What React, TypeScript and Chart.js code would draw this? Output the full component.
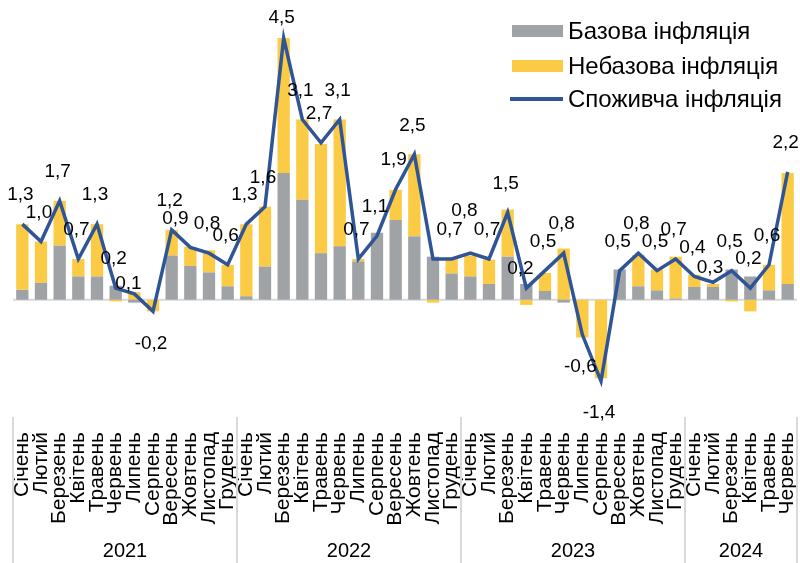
import React, { useEffect, useRef } from 'react';
import { Chart, registerables } from 'chart.js';

Chart.register(...registerables);

const MONTHS = ['Січень', 'Лютий', 'Березень', 'Квітень', 'Травень', 'Червень', 'Липень', 'Серпень', 'Вересень', 'Жовтень', 'Листопад', 'Грудень'];
const YEARS = ['2021', '2022', '2023', '2024'];
const MONTHS_PER_YEAR = [12, 12, 12, 6];

const categories: string[] = YEARS.flatMap((_, i) => MONTHS.slice(0, MONTHS_PER_YEAR[i]));

// Базова інфляція (внесок)
const coreInflation = [
  0.17, 0.29, 0.93, 0.40, 0.40, 0.24, -0.05, 0.00, 0.76, 0.58, 0.47, 0.23,
  0.06, 0.57, 2.18, 1.72, 0.80, 0.92, 0.66, 1.15, 1.37, 1.09, 0.74, 0.45,
  0.40, 0.27, 0.74, 0.27, 0.15, -0.05, 0.00, 0.00, 0.52, 0.23, 0.16, 0.02,
  0.22, 0.22, 0.52, 0.40, 0.16, 0.27,
];

// Небазова інфляція (внесок)
const nonCoreInflation = [
  1.13, 0.71, 0.77, 0.30, 0.90, -0.03, 0.13, -0.20, 0.44, 0.33, 0.38, 0.37,
  1.24, 1.03, 2.32, 1.38, 1.88, 2.18, 0.04, 0.00, 0.52, 1.41, -0.05, 0.28,
  0.36, 0.42, 0.81, -0.09, 0.31, 0.88, -0.65, -1.35, 0.00, 0.54, 0.36, 0.72,
  0.21, 0.05, -0.03, -0.20, 0.44, 1.91,
];

// Споживча інфляція
const consumerInflation = [
  1.3, 1.0, 1.7, 0.7, 1.3, 0.2, 0.1, -0.2, 1.2, 0.9, 0.8, 0.6,
  1.3, 1.6, 4.5, 3.1, 2.7, 3.1, 0.7, 1.1, 1.9, 2.5, 0.7, 0.7,
  0.8, 0.7, 1.5, 0.2, 0.5, 0.8, -0.6, -1.4, 0.5, 0.8, 0.5, 0.7,
  0.4, 0.3, 0.5, 0.2, 0.6, 2.2,
];

const SERIES_NAMES = ['Базова інфляція', 'Небазова інфляція', 'Споживча інфляція'];

const Y_MIN = -2;
const Y_MAX = 5;

const GREY = '#a0a3a6';
const YELLOW = '#fccb45';
const BLUE = '#2f5597';
const RULE = '#d9d9d9';
const FONT = '"Liberation Sans", Arial, sans-serif';

// label placement tweaks (style only): index -> [dx, dy] extra shift
const LABEL_NUDGE: Record<number, [number, number]> = {
  6: [-4, 19],
  9: [-13, 0],
  24: [-4, -13],
  27: [-4, 10],
  37: [-1, 14],
};
const HIDDEN_LABELS = [22];

const zeroLinePlugin = {
  id: 'zeroLine',
  beforeDatasetsDraw(chart: any) {
    const { ctx, chartArea, scales } = chart;
    const y = scales.y.getPixelForValue(0);
    ctx.save();
    ctx.strokeStyle = RULE;
    ctx.lineWidth = 2;
    ctx.beginPath();
    ctx.moveTo(chartArea.left, y);
    ctx.lineTo(chartArea.right, y);
    ctx.stroke();
    ctx.restore();
  },
};

const labelsPlugin = {
  id: 'valueLabels',
  afterDatasetsDraw(chart: any) {
    const { ctx } = chart;
    const meta = chart.getDatasetMeta(2);
    ctx.save();
    ctx.font = `19px ${FONT}`;
    ctx.fillStyle = '#000';
    ctx.textAlign = 'center';
    ctx.textBaseline = 'middle';
    meta.data.forEach((pt: any, i: number) => {
      if (HIDDEN_LABELS.includes(i)) return;
      const v = consumerInflation[i];
      const nudge = LABEL_NUDGE[i] || [0, 0];
      const x = pt.x - 2 + nudge[0];
      let y = v < 0 ? pt.y + 32 : pt.y - 29;
      y += nudge[1];
      if (y < 18) y = 18;
      ctx.fillText(v.toFixed(1).replace('.', ','), x, y);
    });
    ctx.restore();
  },
};

const yearAxisPlugin = {
  id: 'yearAxis',
  afterDraw(chart: any) {
    const { ctx, chartArea, scales, height } = chart;
    const xs = scales.x;
    ctx.save();
    ctx.strokeStyle = RULE;
    ctx.lineWidth = 2;
    ctx.font = `20px ${FONT}`;
    ctx.fillStyle = '#000';
    ctx.textAlign = 'center';
    ctx.textBaseline = 'middle';
    let start = 0;
    const bounds: number[] = [xs.getPixelForValue(-0.5)];
    YEARS.forEach((yr, i) => {
      const end = start + MONTHS_PER_YEAR[i];
      const x0 = xs.getPixelForValue(start - 0.5);
      const x1 = xs.getPixelForValue(end - 0.5);
      bounds.push(x1);
      ctx.fillText(yr, (x0 + x1) / 2, 551);
      start = end;
    });
    bounds.forEach((bx) => {
      ctx.beginPath();
      ctx.moveTo(bx, chartArea.bottom + 1);
      ctx.lineTo(bx, height);
      ctx.stroke();
    });
    ctx.restore();
  },
};

const legendPlugin = {
  id: 'customLegend',
  afterDraw(chart: any) {
    const { ctx } = chart;
    const x0 = 512;
    const rows = [31, 66, 99];
    ctx.save();
    ctx.font = `24px ${FONT}`;
    ctx.textBaseline = 'middle';
    ctx.textAlign = 'left';
    ctx.fillStyle = GREY;
    ctx.fillRect(x0, rows[0] - 6, 51, 12);
    ctx.fillStyle = YELLOW;
    ctx.fillRect(x0, rows[1] - 6, 51, 12);
    ctx.strokeStyle = BLUE;
    ctx.lineWidth = 4;
    ctx.beginPath();
    ctx.moveTo(x0 - 2, rows[2]);
    ctx.lineTo(x0 + 51, rows[2]);
    ctx.stroke();
    ctx.fillStyle = '#000';
    SERIES_NAMES.forEach((name, i) => {
      ctx.fillText(name, x0 + 56, rows[i] + 1);
    });
    ctx.restore();
  },
};

export default function App() {
  const canvasRef = useRef<HTMLCanvasElement | null>(null);

  useEffect(() => {
    document.body.style.margin = '0';
    const canvas = canvasRef.current;
    if (!canvas) return;
    Chart.defaults.font.family = FONT;

    const chart = new Chart(canvas, {
      type: 'bar',
      data: {
        labels: categories,
        datasets: [
          {
            type: 'bar',
            label: SERIES_NAMES[0],
            data: coreInflation,
            backgroundColor: GREY,
            stack: 'bars',
            order: 2,
            categoryPercentage: 1,
            barPercentage: 0.66,
          },
          {
            type: 'bar',
            label: SERIES_NAMES[1],
            data: nonCoreInflation,
            backgroundColor: YELLOW,
            stack: 'bars',
            order: 2,
            categoryPercentage: 1,
            barPercentage: 0.66,
          },
          {
            type: 'line',
            label: SERIES_NAMES[2],
            data: consumerInflation,
            borderColor: BLUE,
            backgroundColor: BLUE,
            borderWidth: 3.5,
            pointRadius: 0,
            tension: 0,
            stack: 'line',
            order: 0,
          } as any,
        ],
      },
      options: {
        responsive: false,
        maintainAspectRatio: false,
        animation: false,
        layout: { padding: { left: 13, right: 3, top: 9, bottom: 0 } },
        plugins: {
          legend: { display: false },
          tooltip: { enabled: false },
        },
        scales: {
          x: {
            stacked: true,
            offset: true,
            grid: { display: false, drawTicks: false },
            border: { display: false },
            ticks: {
              autoSkip: false,
              maxRotation: 90,
              minRotation: 90,
              padding: 16,
              color: '#000',
              font: { family: FONT, size: 21 },
            },
            afterFit: (s: any) => {
              s.height = 147;
              s.paddingLeft = 0;
              s.paddingRight = 0;
            },
          },
          y: {
            display: false,
            stacked: true,
            min: Y_MIN,
            max: Y_MAX,
          },
        },
      },
      plugins: [zeroLinePlugin, labelsPlugin, yearAxisPlugin, legendPlugin],
    });

    return () => chart.destroy();
  }, []);

  return (
    <div style={{ width: 800, height: 563 }}>
      <canvas ref={canvasRef} width={800} height={563} />
    </div>
  );
}
